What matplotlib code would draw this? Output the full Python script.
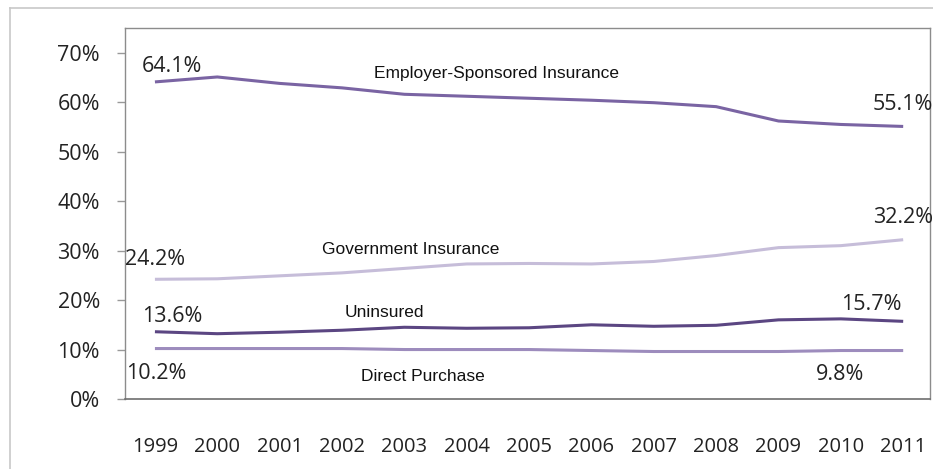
import matplotlib.pyplot as plt
from matplotlib.lines import Line2D

years = [1999, 2000, 2001, 2002, 2003, 2004, 2005, 2006, 2007, 2008, 2009, 2010, 2011]
employer = [64.1, 65.1, 63.8, 62.9, 61.6, 61.2, 60.8, 60.4, 59.9, 59.1, 56.2, 55.5, 55.1]
government = [24.2, 24.3, 24.9, 25.5, 26.4, 27.3, 27.4, 27.3, 27.8, 29.0, 30.6, 31.0, 32.2]
uninsured = [13.6, 13.2, 13.5, 13.9, 14.5, 14.3, 14.4, 15.0, 14.7, 14.9, 16.0, 16.2, 15.7]
direct = [10.2, 10.2, 10.2, 10.2, 10.0, 10.0, 10.0, 9.8, 9.6, 9.6, 9.6, 9.8, 9.8]
y_ticks = [0, 10, 20, 30, 40, 50, 60, 70]

num_font = 'Open Sans'
name_font = 'Liberation Sans'

fig = plt.figure(figsize=(9.33, 4.69), dpi=100)
ax = fig.add_axes([125 / 933, 1 - 399 / 469, 805 / 933, 371 / 469])

# series: values, colour, name label (x, y in data), start/end label offsets in pixels
series = [
    (employer, '#7a64a3', 'Employer-Sponsored Insurance', (2004.47, 65.8), (17, 15), (0, 22)),
    (government, '#c6bdd9', 'Government Insurance', (2003.1, 30.2), (0, 20), (0, 22)),
    (uninsured, '#5b4682', 'Uninsured', (2002.68, 17.5), (17, 15), (-32, 17)),
    (direct, '#9d8cbd', 'Direct Purchase', (2003.3, 4.5), (1, -25), (-63, -24)),
]

for values, color, name, name_pos, off_start, off_end in series:
    ax.plot(years, values, color=color, linewidth=2.2, solid_capstyle='butt')
    ax.text(name_pos[0], name_pos[1], name, ha='center', va='center',
            fontsize=12.5, family=name_font, color='#111111')
    ax.annotate(f'{values[0]:.1f}%', (years[0], values[0]), xytext=off_start,
                textcoords='offset pixels', ha='center', va='center',
                fontsize=15.5, family=num_font, color='#222222', annotation_clip=False)
    ax.annotate(f'{values[-1]:.1f}%', (years[-1], values[-1]), xytext=off_end,
                textcoords='offset pixels', ha='center', va='center',
                fontsize=15.5, family=num_font, color='#222222', annotation_clip=False)

ax.set_xlim(1998.52, 2011.43)
ax.set_ylim(0, 75)
ax.set_yticks(y_ticks)
ax.set_yticklabels([f'{v}%' for v in y_ticks], family=num_font, fontsize=15.5, color='#222222')
ax.set_xticks(years)
ax.set_xticklabels([str(y) for y in years], family=num_font, fontsize=14.5, color='#222222')
ax.tick_params(axis='y', length=6, width=1, color='#999999', pad=12)
ax.tick_params(axis='x', length=0, pad=27)

for side in ['left', 'top', 'right']:
    ax.spines[side].set_color('#8c8c8c')
    ax.spines[side].set_linewidth(1)
ax.spines['bottom'].set_color('#6e6e6e')
ax.spines['bottom'].set_linewidth(1.2)

# outer chart-area border (left and top edges only visible)
fig.add_artist(Line2D([10 / 933, 10 / 933], [0, 1 - 8 / 469], color='#c8c8c8', linewidth=1.2))
fig.add_artist(Line2D([10 / 933, 1], [1 - 8 / 469, 1 - 8 / 469], color='#c8c8c8', linewidth=1.2))

fig.savefig('out.png', dpi=100)
